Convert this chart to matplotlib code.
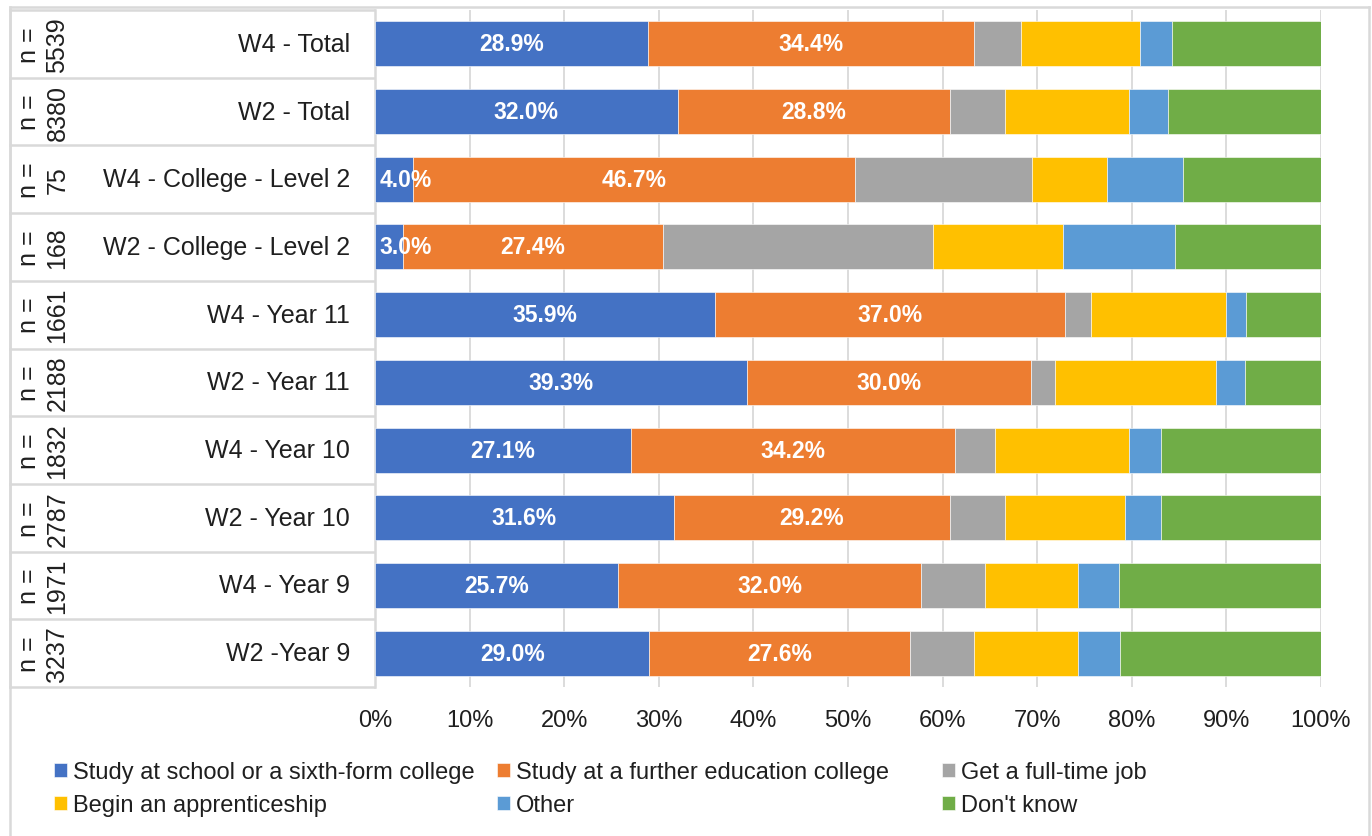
import matplotlib
matplotlib.use("Agg")
import matplotlib.pyplot as plt
import matplotlib.transforms as mtransforms
from matplotlib.lines import Line2D
import numpy as np

plt.rcParams['font.family'] = ['Liberation Sans', 'DejaVu Sans']

categories = ["W4 - Total", "W2 - Total", "W4 - College - Level 2", "W2 - College - Level 2",
              "W4 - Year 11", "W2 - Year 11", "W4 - Year 10", "W2 - Year 10",
              "W4 - Year 9", "W2 -Year 9"]
sample_sizes = ["5539", "8380", "75", "168", "1661", "2188", "1832", "2787", "1971", "3237"]
series_names = ["Study at school or a sixth-form college", "Study at a further education college",
                "Get a full-time job", "Begin an apprenticeship", "Other", "Don't know"]
school = [28.9, 32.0, 4.0, 3.0, 35.9, 39.3, 27.1, 31.6, 25.7, 29.0]
further = [34.4, 28.8, 46.7, 27.4, 37.0, 30.0, 34.2, 29.2, 32.0, 27.6]
job = [5.0, 5.8, 18.7, 28.6, 2.8, 2.6, 4.2, 5.8, 6.8, 6.7]
apprentice = [12.6, 13.1, 8.0, 13.7, 14.3, 17.0, 14.2, 12.7, 9.8, 11.0]
other = [3.3, 4.1, 8.0, 11.9, 2.1, 3.1, 3.4, 3.8, 4.3, 4.4]
dont_know = [15.8, 16.2, 14.7, 15.5, 7.9, 8.0, 16.9, 16.9, 21.4, 21.3]
xticks = [0, 10, 20, 30, 40, 50, 60, 70, 80, 90, 100]

series = [school, further, job, apprentice, other, dont_know]
colors = ["#4472C4", "#ED7D31", "#A5A5A5", "#FFC000", "#5B9BD5", "#70AD47"]
labelled = [True, True, False, False, False, False]

W, H = 1372, 837
fig = plt.figure(figsize=(W / 100, H / 100), dpi=100)
TXT = "#1f1f1f"
GRID = "#d9d9d9"

ax_l, ax_r, ax_t, ax_b = 375, 1321, 11, 688
ax = fig.add_axes([ax_l / W, 1 - ax_b / H, (ax_r - ax_l) / W, (ax_b - ax_t) / H])

y = np.arange(len(categories))
left = np.zeros(len(categories))
containers = []
for vals, col, name, lab in zip(series, colors, series_names, labelled):
    vals = np.array(vals)
    bc = ax.barh(y, vals, left=left, height=0.665, color=col, label=name,
                 edgecolor="white", linewidth=0.4, zorder=3)
    containers.append(bc)
    if lab:
        for yi, l0, v in zip(y, left, vals):
            if v < 6:
                ax.annotate(f"{v:.1f}%", (l0, yi), xytext=(3, 0), textcoords="offset points",
                            ha="left", va="center", color="white", fontsize=16.5,
                            fontweight="bold", zorder=4)
            else:
                ax.text(l0 + v / 2, yi, f"{v:.1f}%", ha="center", va="center",
                        color="white", fontsize=16.5, fontweight="bold", zorder=4)
    left = left + vals

ax.set_xlim(0, 100)
ax.set_ylim(len(categories) - 0.5, -0.5)
ax.set_xticks(xticks)
ax.set_xticklabels([f"{t}%" for t in xticks], fontsize=17, color=TXT)
ax.set_yticks([])
ax.tick_params(axis="x", length=0, pad=16)
ax.grid(axis="x", color=GRID, linewidth=1.3, zorder=0)
for s in ["top", "right", "bottom"]:
    ax.spines[s].set_visible(False)
ax.spines["left"].set_color(GRID)
ax.spines["left"].set_linewidth(1.8)

# table-like label column
trans = mtransforms.blended_transform_factory(fig.transFigure, ax.transData)
x0, x1 = 10 / W, 374 / W
for i in range(len(categories) + 1):
    fig.add_artist(Line2D([x0, x1], [i - 0.5, i - 0.5], transform=trans,
                          color=GRID, linewidth=1.8))
fig.add_artist(Line2D([x0, x0], [-0.5, len(categories) - 0.5], transform=trans,
                      color=GRID, linewidth=1.8))
for i, (cat, n) in enumerate(zip(categories, sample_sizes)):
    fig.text(350 / W, i, cat, transform=trans, ha="right", va="center",
             fontsize=18, color=TXT)
    fig.text(43 / W, i, f"n =\n{n}", transform=trans, ha="center", va="center",
             rotation=90, fontsize=18, color=TXT, multialignment="center",
             linespacing=1.25)

# outer chart border
fig.add_artist(Line2D([9.5 / W, 9.5 / W], [0, 1 - 7.5 / H], transform=fig.transFigure,
                      color=GRID, linewidth=1.8))
fig.add_artist(Line2D([9.5 / W, 1368.5 / W], [1 - 7.5 / H, 1 - 7.5 / H],
                      transform=fig.transFigure, color=GRID, linewidth=1.8))
fig.add_artist(Line2D([1368.5 / W, 1368.5 / W], [0, 1 - 7.5 / H], transform=fig.transFigure,
                      color=GRID, linewidth=1.8))

# legend in three columns
col_x = [54, 497, 942]
handles = [c.patches[0] for c in containers]
for k, cx in enumerate(col_x):
    idx = [k, k + 3]
    fig.legend([handles[j] for j in idx], [series_names[j] for j in idx],
               loc="upper left", bbox_to_anchor=(cx / W, 1 - 762 / H),
               frameon=False, fontsize=17, borderpad=0, borderaxespad=0,
               handlelength=0.55, handleheight=0.55, handletextpad=0.25,
               labelspacing=0.47, labelcolor=TXT)

fig.savefig("out.png", dpi=100)
